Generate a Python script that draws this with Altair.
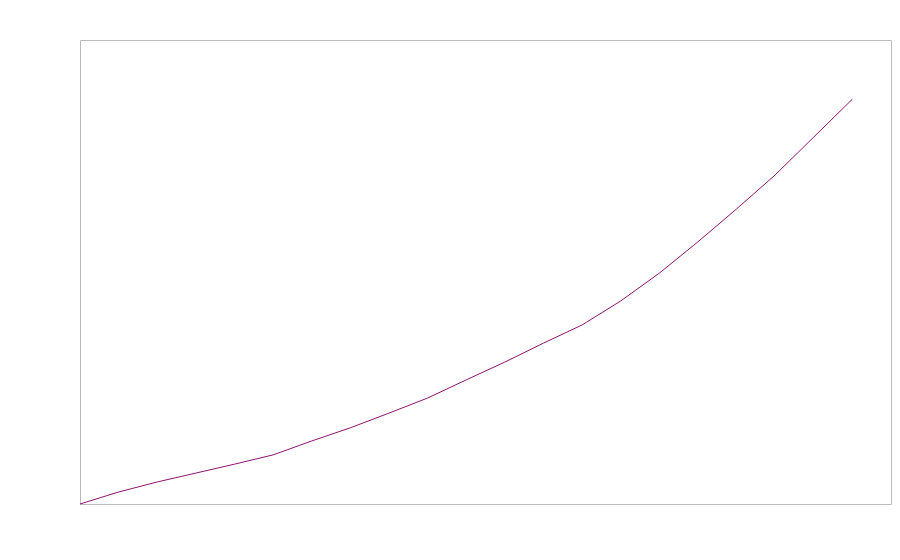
import altair as alt
import pandas as pd

xs = list(range(0, 21))
ys = [0, 3.1, 5.7, 8.0, 10.3, 12.7, 16.3, 19.7, 23.5, 27.4, 32.1, 36.7, 41.6, 46.3,
      52.5, 59.7, 67.8, 76.3, 85.1, 94.9, 104.7]

df = pd.DataFrame({"x": xs, "y": ys})

chart = alt.Chart(df).mark_line(color="#8e1470", strokeWidth=1).encode(
    x=alt.X("x:Q", scale=alt.Scale(domain=[0, 21], nice=False, zero=False), axis=None),
    y=alt.Y("y:Q", scale=alt.Scale(domain=[0, 120], nice=False), axis=None),
).properties(
    width=811, height=464,
    autosize=alt.AutoSizeParams(type="none"),
    padding={"left": 72, "top": 32, "right": 1, "bottom": 8},
).configure_view(stroke="#bbbbbb", strokeWidth=1)

chart.save("out.html", embed_options={"renderer": "svg", "actions": False})
